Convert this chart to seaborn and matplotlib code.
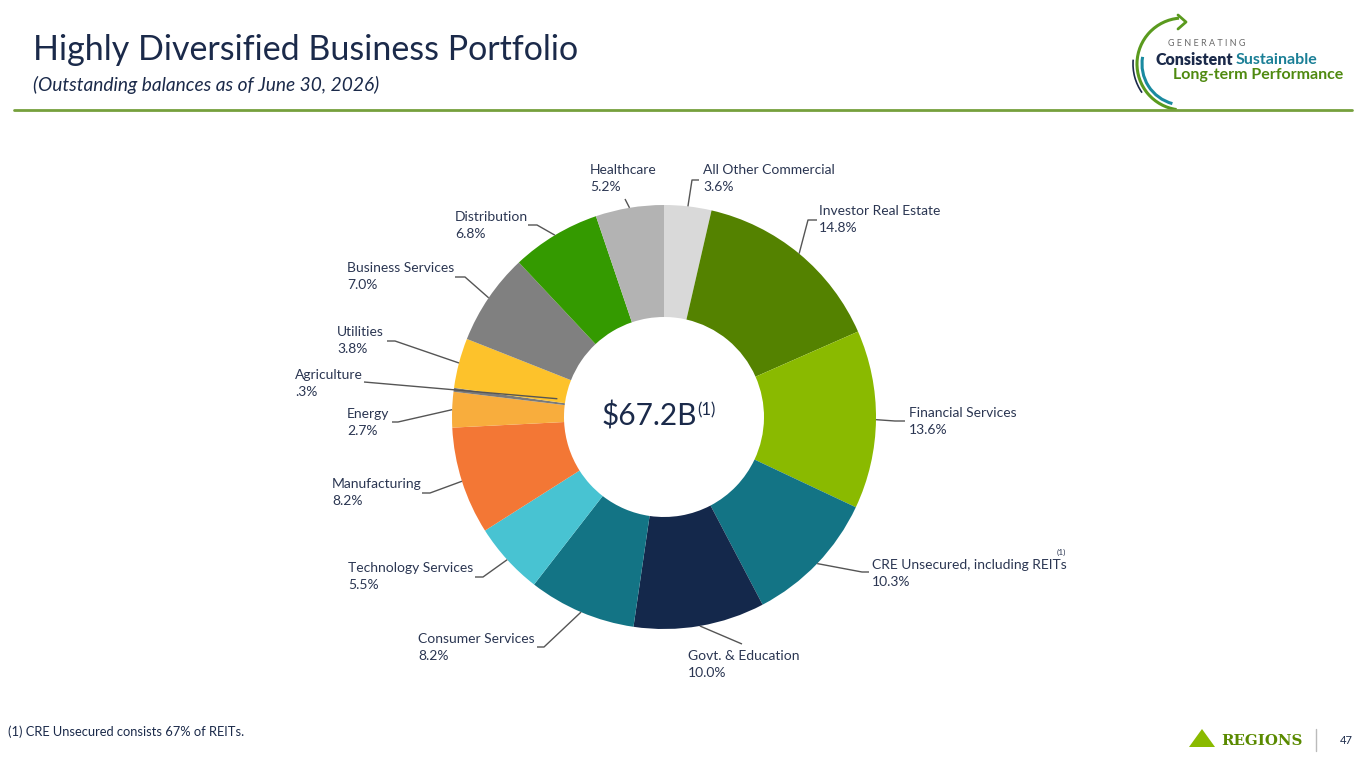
import numpy as np
import matplotlib
matplotlib.use('Agg')
import matplotlib.pyplot as plt
from matplotlib.patches import Arc, Polygon
import seaborn as sns

# Data
sectors = ['All Other Commercial', 'Investor Real Estate', 'Financial Services',
           'CRE Unsecured, including REITs', 'Govt. & Education', 'Consumer Services',
           'Technology Services', 'Manufacturing', 'Energy', 'Agriculture',
           'Utilities', 'Business Services', 'Distribution', 'Healthcare']
shares = [3.6, 14.8, 13.6, 10.3, 10.0, 8.2, 5.5, 8.2, 2.7, 0.3, 3.8, 7.0, 6.8, 5.2]
share_labels = ['3.6%', '14.8%', '13.6%', '10.3%', '10.0%', '8.2%', '5.5%', '8.2%',
                '2.7%', '.3%', '3.8%', '7.0%', '6.8%', '5.2%']
colors = ['#d9d9d9', '#548200', '#8aba00', '#137485', '#14284b', '#137485',
          '#48c3d2', '#f37735', '#f8ad3d', '#7a7a7a', '#fdc22b', '#808080',
          '#349a00', '#b3b3b3']
total_label = '$67.2B'

# Layout (pixel coords, y from top)
W, H = 1365, 768
cx, cy, R, ring = 664, 417, 212, 112
text_x = [703, 819, 909, 872, 688, 418, 348, 332, 347, 295, 337, 347, 455, 590]
text_y = [170, 211, 413, 565, 656, 639, 568, 484, 414, 375, 332, 268, 217, 170]
elbow = [(692, 180), (808, 220), (895, 421), (862, 572), (742, 644), (544, 647),
         (483, 577), (430, 493), (398, 422), (364, 382), (395, 341), (465, 277),
         (537, 225), (625, 199)]
line_end = [(699, 180), (817, 220), (905, 421), (869, 572), (742, 644), (537, 647),
            (475, 577), (422, 493), (392, 422), (364, 382), (387, 341), (455, 277),
            (528, 225), (625, 199)]
inward = [0, 0, 0, 0, 0, 0, 0, 0, 0, 104, 0, 0, 0, 0]

navy = '#1b2a4a'
txt = '#2b3652'
lead = '#555555'

sns.set_theme(style='white')
plt.rcParams['font.family'] = ['Lato', 'DejaVu Sans']


def fy(y):
    return H - y


fig = plt.figure(figsize=(13.65, 7.68), dpi=100)
ax = fig.add_axes([0, 0, 1, 1])
wedges, _ = ax.pie(shares, colors=colors, startangle=90, counterclock=False,
                   radius=R, center=(cx, fy(cy)),
                   wedgeprops=dict(width=ring, linewidth=0))
ax.set_xlim(0, W)
ax.set_ylim(0, H)
ax.set_aspect('equal')
ax.axis('off')

# Labels with leader lines
for i, w in enumerate(wedges):
    mid = np.deg2rad((w.theta1 + w.theta2) / 2)
    px, py = cx + R * np.cos(mid), fy(cy) + R * np.sin(mid)
    ex, ey = elbow[i][0], fy(elbow[i][1])
    if inward[i]:
        d = np.array([px - ex, py - ey])
        d = d / np.linalg.norm(d)
        px, py = px + d[0] * inward[i], py + d[1] * inward[i]
    hx, hy = line_end[i][0], fy(line_end[i][1])
    ax.plot([px, ex, hx], [py, ey, hy], color=lead, lw=1, solid_capstyle='butt')
    ax.text(text_x[i], fy(text_y[i]), sectors[i], fontsize=10, color=txt,
            ha='left', va='center')
    ax.text(text_x[i], fy(text_y[i] + 17), share_labels[i], fontsize=10, color=txt,
            ha='left', va='center')
ax.text(1057, fy(552), '(1)', fontsize=6, color=txt, ha='left', va='center')

# Centre total
ax.text(697, fy(416), total_label, fontsize=21.5, color=navy, ha='right', va='center')
ax.text(697, fy(410), '(1)', fontsize=12, color=navy, ha='left', va='center')

# Title
ax.text(33, fy(50), 'Highly Diversified Business Portfolio', fontsize=24.5,
        color=navy, ha='left', va='center')
ax.text(33, fy(85), '(Outstanding balances as of June 30, 2026)', fontsize=13.8,
        color=navy, style='italic', ha='left', va='center')
ax.plot([14, 1352], [fy(110), fy(110)], color='#76a03c', lw=2)

# Top-right badge
ax.add_patch(Arc((1183, fy(64)), 92, 92, theta1=95, theta2=262, color='#5a9a1e', lw=2.2))
ax.add_patch(Arc((1183, fy(64)), 82, 82, theta1=170, theta2=255, color='#1a8aa0', lw=2.2))
ax.add_patch(Arc((1183, fy(64)), 100, 100, theta1=175, theta2=215, color=navy, lw=1.2))
ax.plot([1178, 1186, 1178], [fy(15), fy(22), fy(29)], color='#5a9a1e', lw=2)
ax.text(1168, fy(44), 'G E N E R A T I N G', fontsize=6.5, color='#6a6a6a',
        ha='left', va='center')
ax.text(1155, fy(60), 'Consistent', fontsize=11.5, color=navy, weight='heavy',
        ha='left', va='center')
ax.text(1236, fy(60), 'Sustainable', fontsize=11.5, color='#1a7f96', weight='bold',
        ha='left', va='center')
ax.text(1173, fy(75), 'Long-term Performance', fontsize=11.5, color='#4f8a10',
        weight='bold', ha='left', va='center')

# Footer
ax.text(8, fy(732), '(1) CRE Unsecured consists 67% of REITs.', fontsize=9.3,
        color=navy, ha='left', va='center')
ax.add_patch(Polygon([(1189, fy(747)), (1202, fy(729)), (1215, fy(747))],
                     closed=True, color='#8aba00', lw=0))
ax.text(1221, fy(741), 'REGIONS', fontsize=10.8, color='#5a8a00', family='DejaVu Serif',
        weight='bold', ha='left', va='center')
ax.plot([1316, 1316], [fy(729), fy(751)], color='#bbbbbb', lw=1)
ax.text(1340, fy(740), '47', fontsize=8, color=navy, ha='left', va='center')

fig.savefig('out.png', dpi=100)
